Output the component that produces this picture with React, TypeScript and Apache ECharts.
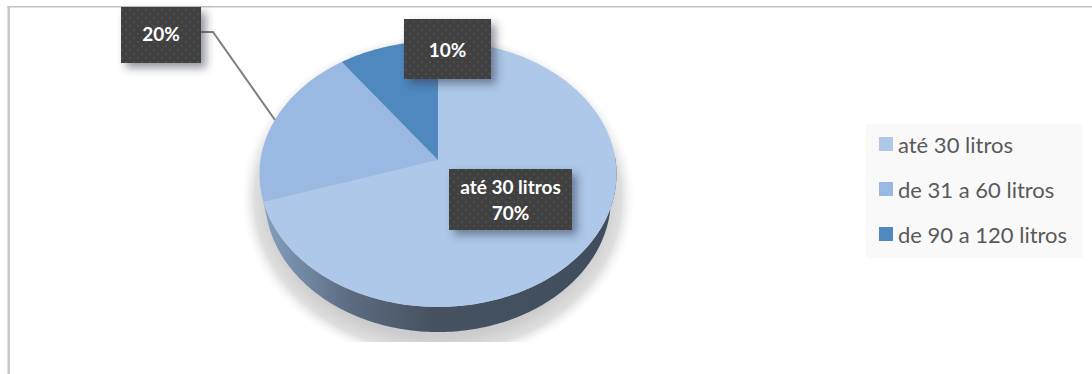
import React, { useEffect, useRef } from "react";
import * as echarts from "echarts";

const categories = ["até 30 litros", "de 31 a 60 litros", "de 90 a 120 litros"];
const shares = [70, 20, 10];
const sliceColors = ["#adc8e8", "#9ab9e2", "#4f88bf"];
// Which callouts also carry the category name
const calloutNames = ["até 30 litros", "", ""];
const calloutBoxes = [
  [449, 169, 123, 61],
  [121, 7, 80, 56],
  [404, 19, 87, 60],
];

const FONT = "Lato, Carlito, Calibri, 'Open Sans', sans-serif";
const CX = 438;
const CY = 160;
const RX = 177.5;
const RY = 131.5;
const TILT = 0.105;

// Projects a point of the unit disc onto the tilted pie plane
function project(turn: number, radius = 1, rx = RX, ry = RY, cy = CY) {
  const a = turn * Math.PI * 2;
  const u = Math.sin(a) * radius;
  const v = -Math.cos(a) * radius;
  const d = 1 - TILT * v;
  return [CX + (rx * u) / d, cy + (ry * v) / d];
}

function arcPoints(from: number, to: number, rx = RX, ry = RY, cy = CY) {
  const steps = Math.max(2, Math.ceil(Math.abs(to - from) * 360));
  const pts: number[][] = [];
  for (let i = 0; i <= steps; i++) pts.push(project(from + ((to - from) * i) / steps, 1, rx, ry, cy));
  return pts;
}

const total = shares.reduce((s, v) => s + v, 0);

function makeDots() {
  const c = document.createElement("canvas");
  c.width = 8;
  c.height = 8;
  const g = c.getContext("2d")!;
  g.fillStyle = "#404040";
  g.fillRect(0, 0, 8, 8);
  g.fillStyle = "#4d4d4d";
  g.fillRect(1, 1, 2, 2);
  g.fillRect(5, 5, 2, 2);
  return c;
}

export default function App() {
  const ref = useRef<HTMLDivElement>(null);
  useEffect(() => {
    document.body.style.margin = "0";
    const chart = echarts.init(ref.current!, undefined, { renderer: "svg" });
    const dots = makeDots();

    const sliceSeries = categories.map((name, i) => ({
      type: "custom",
      name,
      coordinateSystem: "none",
      z: 3,
      itemStyle: { color: sliceColors[i] },
      data: [[shares[i], shares.slice(0, i).reduce((s, v) => s + v, 0)]],
      renderItem: (_p: any, api: any) => {
        const from = api.value(1) / total;
        const to = from + api.value(0) / total;
        return {
          type: "polygon",
          shape: { points: [[CX, CY], ...arcPoints(from, to)] },
          style: { fill: sliceColors[i] },
        };
      },
    }));

    const option: any = {
      animation: false,
      backgroundColor: "#ffffff",
      legend: {
        data: categories,
        orient: "vertical",
        left: 866,
        top: 124,
        padding: [9, 16, 13, 13],
        backgroundColor: "#f9f9f9",
        itemWidth: 14,
        itemHeight: 14,
        itemGap: 23,
        icon: "rect",
        selectedMode: false,
        textStyle: { color: "#595959", fontSize: 22, fontFamily: FONT, padding: [0, 0, 0, 0] },
      },
      graphic: [
        { type: "rect", z: 1, shape: { x: 7, y: 6, width: 1085, height: 1.5 }, style: { fill: "#c4c4c4" } },
        { type: "rect", z: 1, shape: { x: 7.5, y: 6, width: 2.5, height: 368 }, style: { fill: "#c8c8c8" } },
      ],
      series: [
        {
          // Cast shadow and rim of the pie
          type: "custom",
          name: "base",
          coordinateSystem: "none",
          z: 2,
          data: [[1]],
          renderItem: () => {
            const top = arcPoints(0.245, 0.705);
            const bottom = arcPoints(0.705, 0.245, 172, 132.5, 184);
            return {
              type: "group",
              children: [
                {
                  type: "ellipse",
                  shape: { cx: 438, cy: 198, rx: 197, ry: 165 },
                  clipPath: { type: "rect", shape: { x: 0, y: 0, width: 1092, height: 342 } },
                  style: {
                    fill: {
                      type: "radial",
                      x: 0.5,
                      y: 0.5,
                      r: 0.5,
                      colorStops: [
                        { offset: 0, color: "#c8c8c8" },
                        { offset: 0.84, color: "#cccccc" },
                        { offset: 0.93, color: "#dedede" },
                        { offset: 1, color: "rgba(245,245,245,0)" },
                      ],
                    },
                  },
                },
                {
                  type: "polygon",
                  shape: { points: [...top, ...bottom] },
                  style: {
                    fill: {
                      type: "linear",
                      x: 0,
                      y: 0,
                      x2: 1,
                      y2: 0,
                      colorStops: [
                        { offset: 0, color: "#84a0bf" },
                        { offset: 0.25, color: "#5c6b80" },
                        { offset: 0.48, color: "#465260" },
                        { offset: 1, color: "#3f4d5c" },
                      ],
                    },
                  },
                },
              ],
            };
          },
        },
        ...sliceSeries,
        {
          // Leader line and dark callouts
          type: "custom",
          name: "callouts",
          coordinateSystem: "none",
          z: 4,
          data: shares.map((v, i) => [v, i]),
          renderItem: (_p: any, api: any) => {
            const i = api.value(1);
            const [x, y, w, h] = calloutBoxes[i];
            const pct = `${api.value(0)}%`;
            const text = calloutNames[i] ? `${calloutNames[i]}\n${pct}` : pct;
            const children: any[] = [];
            if (i === 1) {
              children.push({
                type: "polyline",
                shape: { points: [[x + w, 32], [213, 32], [275, 120]] },
                style: { stroke: "#7f7f7f", lineWidth: 2, fill: "none" },
              });
            }
            children.push(
              {
                type: "rect",
                shape: { x, y, width: w, height: h },
                style: {
                  fill: "#404040",
                  shadowBlur: 8,
                  shadowOffsetX: 5,
                  shadowOffsetY: 5,
                  shadowColor: "rgba(40,50,70,0.5)",
                },
              },
              {
                type: "rect",
                shape: { x, y, width: w, height: h },
                style: { fill: { image: dots, repeat: "repeat" } },
              },
              {
                type: "text",
                style: {
                  x: x + w / 2,
                  y: y + h / 2 - (i === 1 ? 1.5 : 0),
                  text,
                  fill: "#ffffff",
                  font: `bold 19px ${FONT}`,
                  lineHeight: 26,
                  align: "center",
                  verticalAlign: "middle",
                },
              }
            );
            return { type: "group", children };
          },
        },
      ],
    };
    chart.setOption(option);
    return () => chart.dispose();
  }, []);
  return <div ref={ref} style={{ position: "absolute", left: 0, top: 0, width: 1092, height: 374 }} />;
}
